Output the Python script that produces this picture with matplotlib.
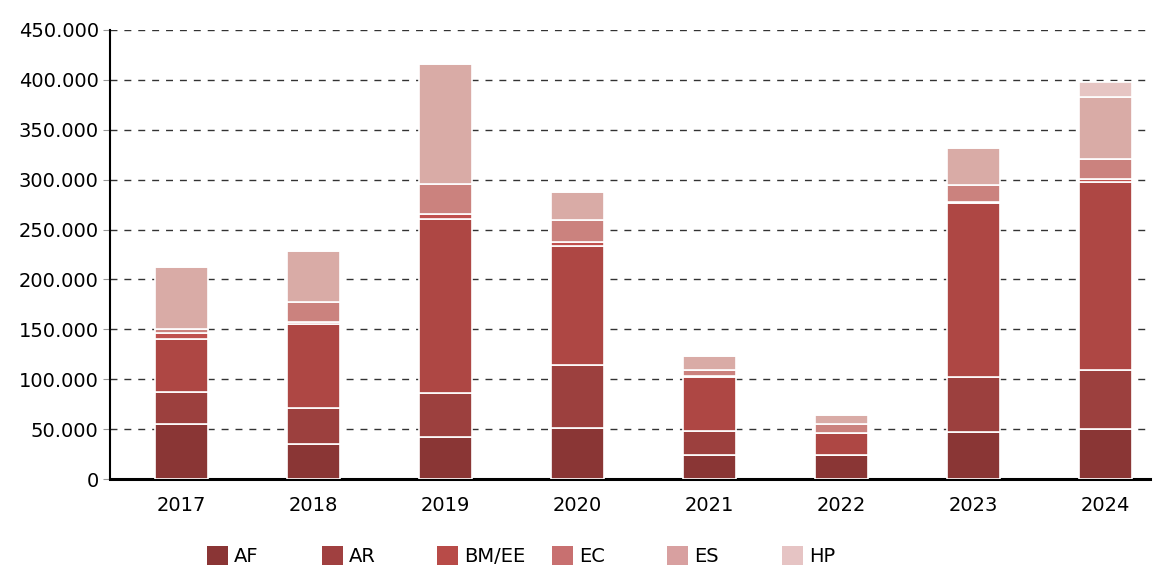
import numpy as np
import matplotlib
matplotlib.use("Agg")
import matplotlib.pyplot as plt
from matplotlib.patches import Patch
from matplotlib.ticker import FuncFormatter

plt.rcParams["font.family"] = ["DejaVu Sans"]

# Data (thousands)
years = ["2017", "2018", "2019", "2020", "2021", "2022", "2023", "2024"]
af = [55, 35, 42, 51.5, 23.7, 23.7, 46.8, 50]
ar = [32.5, 36, 44, 62.5, 24.7, 0, 55.7, 59]
bm = [53, 84, 175, 119.5, 54, 22.7, 173.8, 188.6]
ee = [6, 2, 5, 4.5, 0.8, 0, 1.7, 3.4]
ec = [4, 20.5, 30, 22, 6.5, 8.4, 16.6, 19.7]
es = [62, 51, 120, 27.5, 13.5, 9.7, 37.4, 62.3]
hp = [0, 0, 0, 0, 0, 0, 0, 15]

series = [af, ar, bm, ee, ec, es, hp]
bar_colors = ["#8a3635", "#9c403e", "#ae4744", "#c0504d", "#cb827e", "#d9aba6", "#e6c5c3"]

legend_labels = ["AF", "AR", "BM/EE", "EC", "ES", "HP"]
legend_colors = ["#8a3535", "#a04040", "#b84b48", "#c87070", "#d8a0a0", "#e6c4c4"]

fig = plt.figure(figsize=(11.56, 5.66), dpi=100)
ax = fig.add_axes([0.095, 0.1537, 0.9, 0.7933])

x = np.arange(len(years))
bottom = np.zeros(len(years))
for vals, col in zip(series, bar_colors):
    v = np.array(vals) * 1000
    ax.bar(x, v, bottom=bottom, width=0.4, color=col, edgecolor="white",
           linewidth=1.2, zorder=3)
    bottom += v

ax.set_ylim(0, 450000)
ax.set_xlim(-0.54, 7.34)
ax.set_yticks(np.arange(0, 450001, 50000))
ax.yaxis.set_major_formatter(FuncFormatter(lambda v, p: f"{int(v):,}".replace(",", ".")))
ax.set_xticks(x)
ax.set_xticklabels(years)
ax.tick_params(axis="x", length=0, labelsize=14, pad=12)
ax.tick_params(axis="y", length=5, color="#999999", labelsize=14, pad=3)

ax.grid(axis="y", linestyle=(0, (5, 5)), color="#333333", linewidth=1, zorder=0)
for s in ["top", "right"]:
    ax.spines[s].set_visible(False)
ax.spines["left"].set_linewidth(1.5)
ax.spines["bottom"].set_linewidth(2.2)

# legend, one fixed-width column per entry
for i, (lab, col) in enumerate(zip(legend_labels, legend_colors)):
    fig.legend(handles=[Patch(facecolor=col, label=lab)], loc="center left",
               bbox_to_anchor=((207 + i * 115) / 1156, 0.018), frameon=False,
               fontsize=14, handlelength=1.1, handleheight=1.1,
               handletextpad=0.3, borderaxespad=0, borderpad=0)

fig.savefig("out.png", dpi=100)
